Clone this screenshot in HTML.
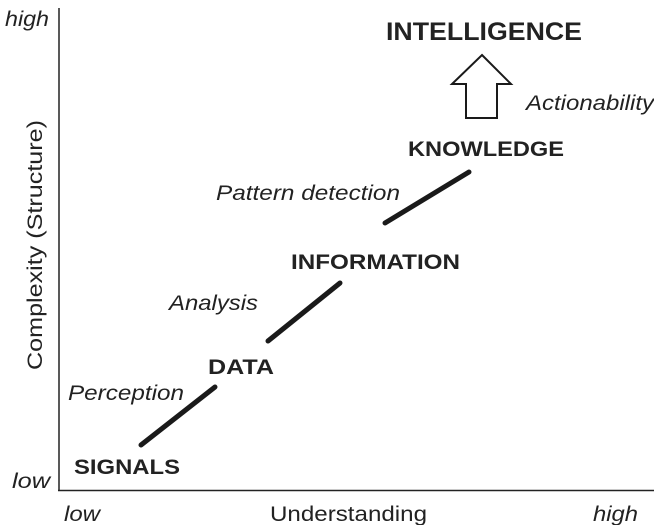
<!DOCTYPE html>
<html><head><meta charset="utf-8"><style>
html,body{margin:0;padding:0;background:#fff;}
</style></head><body>
<svg width="654" height="525" xmlns="http://www.w3.org/2000/svg" style="display:block">
<g font-family="Liberation Sans, sans-serif" fill="#222">
<line x1="59" y1="8" x2="59" y2="491" stroke="#222" stroke-width="1.5"/>
<line x1="58" y1="490.5" x2="654" y2="490.5" stroke="#222" stroke-width="1.5"/>
<g stroke="#1a1a1a" stroke-width="5" stroke-linecap="round">
<line x1="141" y1="445" x2="215" y2="387"/>
<line x1="268" y1="341" x2="340" y2="283"/>
<line x1="385" y1="223" x2="469" y2="172"/>
</g>
<polygon points="482,55 511,84 497,84 497,118 466,118 466,84 452,84" fill="#fff" stroke="#1a1a1a" stroke-width="2"/>
<g font-style="italic" font-size="21" lengthAdjust="spacingAndGlyphs">
<text x="5" y="26" textLength="44" lengthAdjust="spacingAndGlyphs">high</text>
<text x="12" y="488" textLength="38" lengthAdjust="spacingAndGlyphs">low</text>
<text x="64" y="521" textLength="36" lengthAdjust="spacingAndGlyphs">low</text>
<text x="593" y="521" textLength="45" lengthAdjust="spacingAndGlyphs">high</text>
<text x="68" y="400" textLength="116" lengthAdjust="spacingAndGlyphs">Perception</text>
<text x="169" y="310" textLength="89" lengthAdjust="spacingAndGlyphs">Analysis</text>
<text x="216" y="200" textLength="184" lengthAdjust="spacingAndGlyphs">Pattern detection</text>
<text x="526" y="110" textLength="128" lengthAdjust="spacingAndGlyphs">Actionability</text>
</g>
<text x="270" y="521" font-size="21" textLength="157" lengthAdjust="spacingAndGlyphs">Understanding</text>
<text transform="translate(42,245) rotate(-90)" x="-125" font-size="21" textLength="250" lengthAdjust="spacingAndGlyphs">Complexity (Structure)</text>
<g font-weight="bold" font-size="21">
<text x="74" y="474" textLength="106" lengthAdjust="spacingAndGlyphs">SIGNALS</text>
<text x="208" y="374" textLength="66" lengthAdjust="spacingAndGlyphs">DATA</text>
<text x="291" y="269" textLength="169" lengthAdjust="spacingAndGlyphs">INFORMATION</text>
<text x="408" y="156" textLength="156" lengthAdjust="spacingAndGlyphs">KNOWLEDGE</text>
<text x="386" y="40" font-size="25" textLength="196" lengthAdjust="spacingAndGlyphs">INTELLIGENCE</text>
</g>
</g>
</svg>
</body></html>
